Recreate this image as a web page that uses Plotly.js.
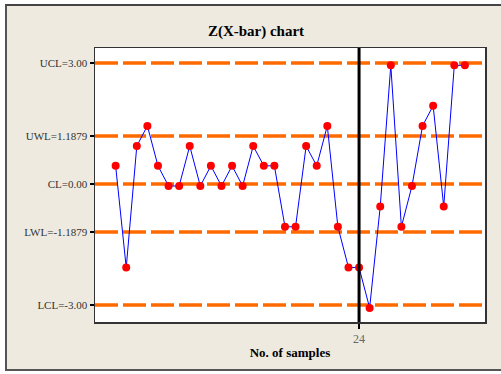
<!DOCTYPE html>
<html>
<head>
<meta charset="utf-8">
<script src="https://cdn.plot.ly/plotly-3.0.1.min.js"></script>
<style>
  html, body { margin: 0; padding: 0; background: #ffffff; }
  #wrap { position: relative; width: 501px; height: 374px; overflow: hidden; }
  #frame { position: absolute; left: 5px; top: 4px; width: 510px; height: 367px;
           background: #eeeae0; border-left: 2px solid #555; border-top: 2px solid #444; border-bottom: 2px solid #555; box-sizing: border-box; }
  #chart { position: absolute; left: 0; top: 0; width: 501px; height: 374px; }
</style>
</head>
<body>
<div id="wrap">
  <div id="frame"></div>
  <div id="chart"></div>
</div>
<script>
// Sample numbers 1..34
const samples = [1,2,3,4,5,6,7,8,9,10,11,12,13,14,15,16,17,18,19,20,21,22,23,24,25,26,27,28,29,30,31,32,33,34];
// Z values
const zValues = [0.45, -2.07, 0.94, 1.44, 0.45, -0.05, -0.05, 0.94, -0.05, 0.45,
                 -0.05, 0.45, -0.05, 0.94, 0.45, 0.45, -1.06, -1.06, 0.94, 0.45,
                 1.44, -1.06, -2.07, -2.07, -3.07, -0.56, 2.94, -1.06, -0.05, 1.44,
                 1.94, -0.56, 2.94, 2.94];
// Control / warning limits
const limitValues = [3.00, 1.1879, 0.00, -1.1879, -3.00];
const limitLabels = ["UCL=3.00", "UWL=1.1879", "CL=0.00", "LWL=-1.1879", "LCL=-3.00"];
// Marked sample (vertical line)
const markedSample = 24;
const xTickVals = [24];
const xTickText = ["24"];

const xRange = [-0.95, 35.9];

const shapes = limitValues.map(v => ({
  type: 'line', xref: 'paper', yref: 'y', x0: 0, x1: 1, y0: v, y1: v,
  line: { color: '#ff6a00', width: 3.5, dash: '23px,5px' }, layer: 'below'
}));
shapes.push({
  type: 'line', xref: 'x', yref: 'paper', x0: markedSample, x1: markedSample, y0: 0, y1: 1,
  line: { color: '#000000', width: 3 }
});

const trace = {
  x: samples, y: zValues, type: 'scatter', mode: 'lines+markers',
  line: { color: '#0000ff', width: 1 },
  marker: { color: '#ff0000', size: 8 },
  hoverinfo: 'skip', cliponaxis: false
};

const layout = {
  width: 501, height: 374,
  margin: { l: 95, r: 16, t: 48, b: 52 },
  paper_bgcolor: 'rgba(0,0,0,0)',
  plot_bgcolor: '#ffffff',
  showlegend: false,
  font: { family: 'Liberation Serif, Times New Roman, serif', size: 12, color: '#333' },
  title: {
    text: 'Z(X-bar) chart',
    font: { family: 'Liberation Serif, serif', size: 15, color: '#000', weight: 'bold' },
    x: 0.511, xref: 'container', xanchor: 'center',
    y: 0.917, yref: 'container', yanchor: 'middle'
  },
  xaxis: {
    range: xRange, tickvals: xTickVals, ticktext: xTickText,
    showgrid: false, zeroline: false,
    showline: true, mirror: true, linecolor: '#333', linewidth: 1.5,
    ticks: 'outside', ticklen: 5, tickcolor: '#000', tickwidth: 1.5,
    tickfont: { family: 'Liberation Serif, serif', size: 12, color: '#666' },
    title: { text: 'No. of samples', standoff: 3,
             font: { family: 'Liberation Serif, serif', size: 13, color: '#000', weight: 'bold' } }
  },
  yaxis: {
    range: [-3.42, 3.37], tickvals: limitValues, ticktext: limitLabels,
    showgrid: false, zeroline: false,
    showline: true, mirror: true, linecolor: '#333', linewidth: 1.5,
    ticks: 'outside', ticklen: 4, tickcolor: '#000', tickwidth: 1.5,
    tickfont: { family: 'Liberation Serif, serif', size: 11, color: '#333' }
  },
  shapes: shapes
};

Plotly.newPlot('chart', [trace], layout, { displayModeBar: false, staticPlot: true });
</script>
</body>
</html>
